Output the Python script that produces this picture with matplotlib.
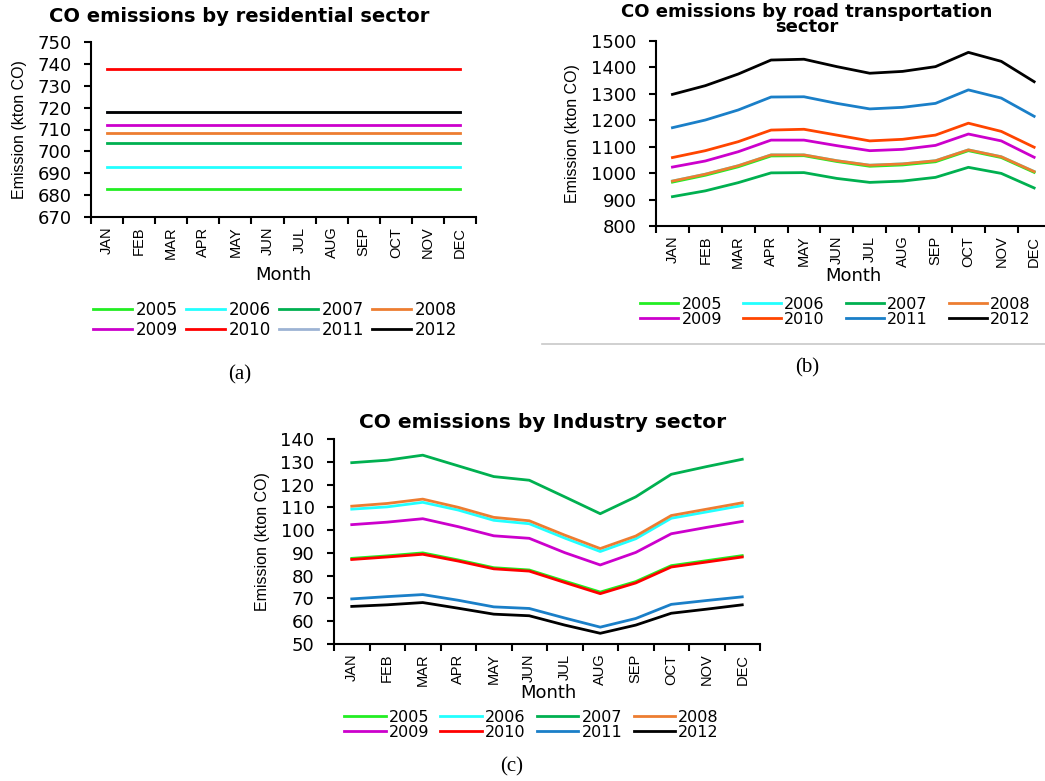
import matplotlib
matplotlib.use("Agg")
import matplotlib.pyplot as plt
from matplotlib.ticker import MultipleLocator, FixedLocator

W, H = 1045, 781

months = ["JAN", "FEB", "MAR", "APR", "MAY", "JUN", "JUL", "AUG", "SEP", "OCT", "NOV", "DEC"]
years = ["2005", "2006", "2007", "2008", "2009", "2010", "2011", "2012"]

# residential sector (kton CO), constant over the months
res_level = {"2005": 683, "2006": 693, "2007": 704, "2008": 708.5,
             "2009": 712, "2010": 737.5, "2011": 718, "2012": 718}

# road transportation sector (kton CO)
road = {
    "2005": [966, 992, 1024, 1065, 1066, 1044, 1026, 1031, 1043, 1085, 1059, 1003],
    "2006": [970, 996, 1028, 1069, 1069, 1047, 1030, 1035, 1047, 1088, 1062, 1006],
    "2007": [911, 933, 964, 1001, 1002, 980, 965, 970, 984, 1022, 999, 944],
    "2008": [970, 996, 1028, 1069, 1069, 1047, 1030, 1035, 1047, 1088, 1062, 1006],
    "2009": [1023, 1046, 1081, 1125, 1125, 1104, 1085, 1090, 1105, 1148, 1122, 1060],
    "2010": [1059, 1085, 1119, 1163, 1166, 1144, 1122, 1128, 1144, 1189, 1158, 1098],
    "2011": [1172, 1201, 1239, 1288, 1289, 1264, 1243, 1249, 1264, 1315, 1284, 1215],
    "2012": [1298, 1331, 1375, 1428, 1431, 1403, 1378, 1385, 1403, 1457, 1423, 1346],
}

# industry sector (kton CO)
industry = {
    "2005": [87.6, 88.7, 90.0, 86.9, 83.5, 82.5, 77.6, 72.8, 77.4, 84.4, 86.6, 88.8],
    "2006": [109.2, 110.2, 112.2, 108.8, 104.3, 102.8, 96.5, 90.6, 96.2, 105.2, 108.0, 110.8],
    "2007": [129.6, 130.7, 132.9, 128.2, 123.5, 121.9, 114.6, 107.2, 114.6, 124.5, 127.9, 131.1],
    "2008": [110.5, 111.7, 113.6, 110.0, 105.6, 104.1, 97.8, 91.9, 97.4, 106.4, 109.2, 112.0],
    "2009": [102.4, 103.5, 105.0, 101.5, 97.5, 96.4, 90.1, 84.7, 90.2, 98.4, 101.2, 103.8],
    "2010": [87.1, 88.2, 89.4, 86.4, 83.0, 82.0, 77.0, 72.1, 76.8, 83.8, 86.0, 88.2],
    "2011": [69.8, 70.8, 71.7, 69.2, 66.3, 65.6, 61.4, 57.4, 61.2, 67.4, 69.1, 70.7],
    "2012": [66.5, 67.2, 68.2, 65.7, 63.1, 62.4, 58.3, 54.7, 58.3, 63.5, 65.3, 67.2],
}

colors_a = {"2005": "#22ee22", "2006": "#22ffff", "2007": "#00b050", "2008": "#ed7d31",
            "2009": "#cc00cc", "2010": "#ff0000", "2011": "#9db3d4", "2012": "#000000"}
colors_b = dict(colors_a, **{"2010": "#ff4500", "2011": "#1a7fc8"})
colors_c = dict(colors_a, **{"2011": "#1a7fc8"})

# draw order so hidden series end up under the visible ones
order_a = ["2005", "2006", "2007", "2008", "2009", "2010", "2011", "2012"]
order_b = ["2006", "2007", "2005", "2008", "2009", "2010", "2011", "2012"]
order_c = ["2005", "2006", "2007", "2008", "2009", "2010", "2011", "2012"]

fig = plt.figure(figsize=(W / 100, H / 100), dpi=100)
fig.patch.set_facecolor("white")


def fx(px):
    return px / W


def fy(py):
    return 1 - py / H


def make_axes(rect, ylim, ystep, xmax, tick_fs, month_fs):
    l, t, r, b = rect
    ax = fig.add_axes([fx(l), fy(b), fx(r) - fx(l), fy(t) - fy(b)])
    for s in ["top", "right"]:
        ax.spines[s].set_visible(False)
    for s in ["left", "bottom"]:
        ax.spines[s].set_linewidth(1.5)
    ax.set_xlim(-0.5, xmax)
    ax.set_ylim(*ylim)
    ax.yaxis.set_major_locator(MultipleLocator(ystep))
    ax.set_xticks(range(12))
    ax.set_xticklabels(months, rotation=90, fontsize=month_fs, family="Liberation Sans")
    ax.xaxis.set_minor_locator(FixedLocator([i - 0.5 for i in range(13)]))
    ax.tick_params(axis="x", which="major", length=0, pad=7)
    ax.tick_params(axis="x", which="minor", length=5, width=1.5, direction="out")
    ax.tick_params(axis="y", length=5, width=1.5, direction="out", labelsize=tick_fs, pad=9)
    for lab in ax.get_yticklabels():
        lab.set_family("DejaVu Sans")
    return ax


def add_legend(ax, lines, x, y, fs, colsp, labsp, hlen):
    # matplotlib fills legend columns first, so reorder for row-wise reading
    idx = [0, 4, 1, 5, 2, 6, 3, 7]
    ax.legend([lines[i] for i in idx], [years[i] for i in idx], ncol=4,
              loc="upper left", bbox_to_anchor=(fx(x), fy(y)), bbox_transform=fig.transFigure,
              frameon=False, handlelength=hlen, handletextpad=0.2,
              columnspacing=colsp, labelspacing=labsp, borderpad=0, borderaxespad=0,
              prop={"family": "DejaVu Sans", "size": fs})


# ---------- (a) residential ----------
ax = make_axes((91, 42, 476, 217), (670, 750), 10, 11.5, 13, 10.5)
lines = {}
for yr in order_a:
    (ln,) = ax.plot(range(12), [res_level[yr]] * 12, color=colors_a[yr], lw=2)
    lines[yr] = ln
add_legend(ax, [lines[y] for y in years], 93, 301, 12, 0.5, 0.1, 2.35)
fig.text(fx(239), fy(16), "CO emissions by residential sector", ha="center", va="center",
         fontsize=14, fontweight="bold", family="DejaVu Sans")
fig.text(fx(20), fy(130), "Emission (kton CO)", rotation=90, ha="center", va="center",
         fontsize=11.5, family="Liberation Sans")
fig.text(fx(283), fy(275), "Month", ha="center", va="center", fontsize=13, family="DejaVu Sans")
fig.text(fx(240), fy(375), "(a)", ha="center", va="center", fontsize=15, family="Liberation Serif")

# ---------- (b) road transportation ----------
ax = make_axes((656, 41, 1045, 226), (800, 1500), 100, 11.33, 13, 10.5)
lines = {}
for yr in order_b:
    (ln,) = ax.plot(range(12), road[yr], color=colors_b[yr], lw=2)
    lines[yr] = ln
add_legend(ax, [lines[y] for y in years], 640, 297, 11.5, 1.3, 0.0, 2.4)
fig.text(fx(807), fy(19.5), "CO emissions by road transportation\nsector", ha="center", va="center",
         fontsize=13, fontweight="bold", family="DejaVu Sans", linespacing=0.85)
fig.text(fx(573), fy(134), "Emission (kton CO)", rotation=90, ha="center", va="center",
         fontsize=11.5, family="Liberation Sans")
fig.text(fx(853), fy(276), "Month", ha="center", va="center", fontsize=13, family="DejaVu Sans")
fig.add_artist(plt.Line2D([fx(542), fx(1045)], [fy(344), fy(344)], color="#c8c8c8", lw=1.2))
fig.text(fx(807), fy(368), "(b)", ha="center", va="center", fontsize=15, family="Liberation Serif")

# ---------- (c) industry ----------
ax = make_axes((334, 439, 760, 644), (50, 140), 10, 11.5, 13, 10.5)
lines = {}
for yr in order_c:
    (ln,) = ax.plot(range(12), industry[yr], color=colors_c[yr], lw=2)
    lines[yr] = ln
add_legend(ax, [lines[y] for y in years], 344, 710, 11.5, 0.7, 0.0, 2.6)
fig.text(fx(543), fy(423), "CO emissions by Industry sector", ha="center", va="center",
         fontsize=14.5, fontweight="bold", family="DejaVu Sans")
fig.text(fx(262), fy(542), "Emission (kton CO)", rotation=90, ha="center", va="center",
         fontsize=11.5, family="Liberation Sans")
fig.text(fx(548), fy(693), "Month", ha="center", va="center", fontsize=13, family="DejaVu Sans")
fig.text(fx(512), fy(767), "(c)", ha="center", va="center", fontsize=15, family="Liberation Serif")

fig.savefig("out.png", dpi=100, facecolor="white")
